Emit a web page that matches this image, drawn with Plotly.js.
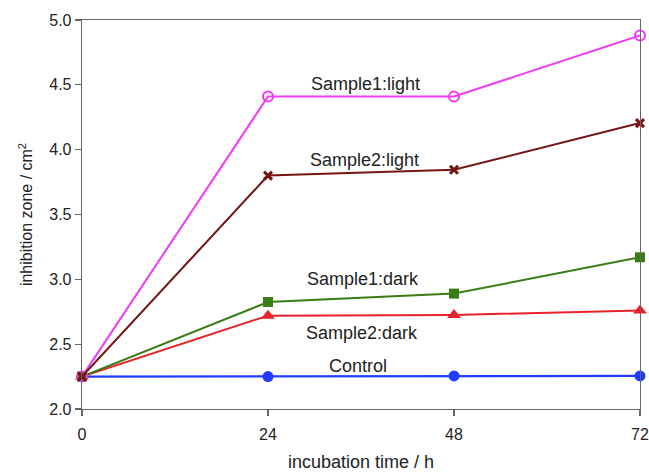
<!DOCTYPE html>
<html>
<head>
<meta charset="utf-8">
<script src="https://cdn.plot.ly/plotly-3.0.1.min.js"></script>
<style>html,body{margin:0;padding:0;background:#fff;}#chart{width:649px;height:473px;}</style>
</head>
<body>
<div id="chart"></div>
<script>
const hours = [0, 24, 48, 72];
const sample1Light = [2.25, 4.41, 4.41, 4.88];
const sample2Light = [2.25, 3.80, 3.845, 4.205];
const sample1Dark = [2.25, 2.825, 2.89, 3.17];
const sample2Dark = [2.25, 2.72, 2.725, 2.76];
const control = [2.25, 2.25, 2.255, 2.255];
const seriesNames = ["Sample1:light", "Sample2:light", "Sample1:dark", "Sample2:dark", "Control"];
const xTickLabels = ["0", "24", "48", "72"];

function tr(y, name, color, symbol, size, lw) {
  return {
    x: hours, y: y, name: name, type: 'scatter', mode: 'lines+markers',
    line: {color: color, width: lw || 2},
    marker: {color: color, symbol: symbol, size: size, line: {color: color, width: symbol === 'circle-open' ? 2 : 0}},
    cliponaxis: false, showlegend: false
  };
}

const data = [
  tr(control, seriesNames[4], '#1f3cff', 'circle', 11, 2.2),
  tr(sample2Dark, seriesNames[3], '#e8222a', 'triangle-up', 12),
  tr(sample1Dark, seriesNames[2], '#3a7d14', 'square', 10),
  tr(sample1Light, seriesNames[0], '#ee3cf2', 'circle-open', 10),
  tr(sample2Light, seriesNames[1], '#761414', 'x-thin-open', 8)
];
data[4].marker.line = {color: '#761414', width: 3};

const labelFont = {family: 'Liberation Sans, Arial, sans-serif', size: 18, color: '#222'};
const annotations = [
  {x: 36.6, y: 4.51, text: seriesNames[0]},
  {x: 36.5, y: 3.92, text: seriesNames[1]},
  {x: 36.3, y: 3.0, text: seriesNames[2]},
  {x: 36.1, y: 2.59, text: seriesNames[3]},
  {x: 35.6, y: 2.33, text: seriesNames[4]}
].map(a => Object.assign({xref: 'x', yref: 'y', showarrow: false, font: labelFont}, a));

const layout = {
  width: 649, height: 473,
  margin: {l: 82, r: 9, t: 20, b: 64},
  paper_bgcolor: '#fff', plot_bgcolor: '#fff',
  font: {family: 'Liberation Sans, Arial, sans-serif', size: 16, color: '#222'},
  xaxis: {
    range: [0, 72], tickvals: hours, ticktext: xTickLabels,
    showgrid: false, zeroline: false, showline: true, linecolor: '#666', linewidth: 1.3,
    mirror: true, ticks: 'outside', ticklen: 6, tickcolor: '#666', tickwidth: 1.3,
    tickfont: {size: 16, color: '#222'}, ticklabelstandoff: 4,
    title: {text: 'incubation time / h', font: {size: 18, color: '#222'}, standoff: 14}
  },
  yaxis: {
    range: [2, 5], dtick: 0.5, tickformat: '.1f',
    showgrid: false, zeroline: false, showline: true, linecolor: '#666', linewidth: 1.3,
    mirror: true, ticks: 'outside', ticklen: 6, tickcolor: '#666', tickwidth: 1.3,
    tickfont: {size: 16, color: '#222'},
    title: {text: 'inhibition zone / cm<sup>2</sup>', font: {size: 16, color: '#222'}, standoff: 12}
  },
  annotations: annotations
};

Plotly.newPlot('chart', data, layout, {displayModeBar: false, staticPlot: true});
</script>
</body>
</html>
